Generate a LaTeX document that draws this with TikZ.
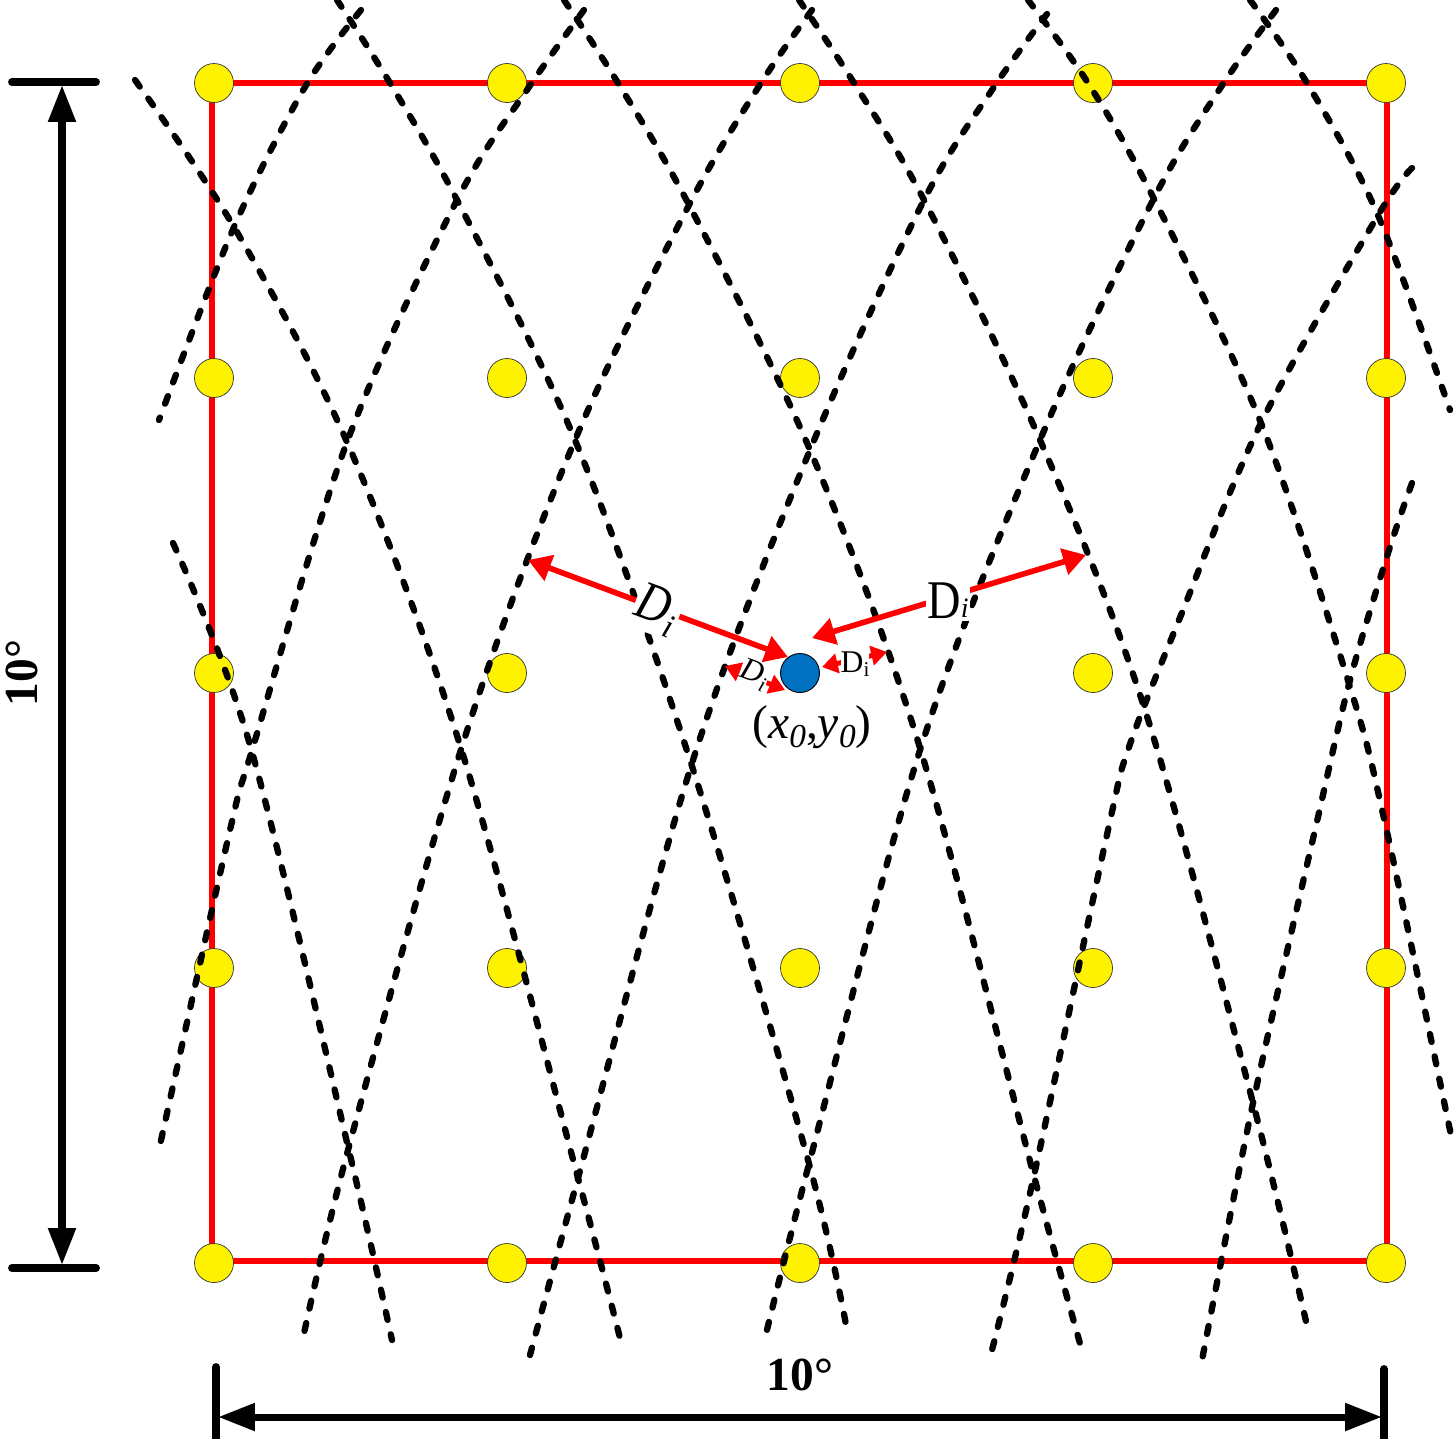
\documentclass[tikz,border=0pt]{standalone}
\usepackage{fontspec}
\setmainfont{Liberation Serif}
\usetikzlibrary{arrows.meta,calc}
\definecolor{dotblue}{HTML}{0070C0}
\newcommand{\bigsz}{\fontsize{27pt}{27pt}\selectfont}
\newcommand{\dsz}{\fontsize{31pt}{31pt}\selectfont}
\newcommand{\bigsub}{\fontsize{19pt}{19pt}\selectfont}
\newcommand{\smallsz}{\fontsize{18pt}{18pt}\selectfont}
\newcommand{\smallsub}{\fontsize{12pt}{12pt}\selectfont}
\begin{document}
\begin{tikzpicture}[x=0.02cm,y=-0.02cm,
  redline/.style={draw=red, line width=3.3pt},
  ydot/.style={circle, fill=yellow, draw=black!80, line width=0.4pt, minimum size=0.78cm, inner sep=0pt},
  bdot/.style={circle, fill=dotblue, draw=black, line width=0.5pt, minimum size=0.78cm, inner sep=0pt},
  dashline/.style={black, line width=3.6pt, line cap=round, dash pattern=on 4.6pt off 8.4pt},
  redarrow/.style={red, line width=3.2pt, {Triangle[length=13pt,width=15pt]}-{Triangle[length=13pt,width=15pt]}},
  smallarrow/.style={red, line width=2.8pt, {Triangle[length=9pt,width=11pt]}-{Triangle[length=9pt,width=11pt]}},
  lab/.style={fill=white, inner sep=1pt},
  dimline/.style={black, line width=4pt},
  tickline/.style={black, line width=4.5pt, line cap=round},
  dimtip/.style={-{Triangle[length=21pt,width=15pt]}}
]
\useasboundingbox (0,0) rectangle (1456,1438);

% red frame
\draw[redline] (212,83) rectangle (1387,1261);

% yellow dots
\foreach \r [count=\j] in {83,378,968,1263}{
  \foreach \c [count=\i] in {214,507,800,1093,1386}{
    \node[ydot] (y\i-\j) at (\c,\r) {};
  }
}
\foreach \c [count=\i] in {214,507,1093,1386}{
  \node[ydot] (m\i) at (\c,673) {};
}

% descending tracks
\draw[dashline] plot[smooth, tension=0.55] coordinates {(173,543) (250,745) (350,1155) (392,1340)};
\draw[dashline] plot[smooth, tension=0.55] coordinates {(135,80) (234,227) (347,442) (460,745) (578,1178) (620,1338)};
\draw[dashline] plot[smooth, tension=0.55] coordinates {(337,0) (390,83) (457,200) (575,440) (690,760) (808,1160) (847,1330)};
\draw[dashline] plot[smooth, tension=0.55] coordinates {(564,0) (618,83) (689,205) (810,450) (920,748) (1035,1180) (1081,1347)};
\draw[dashline] plot[smooth, tension=0.55] coordinates {(799,0) (854,83) (924,200) (1040,440) (1145,710) (1253,1103) (1308,1330)};
\draw[dashline] plot[smooth, tension=0.55] coordinates {(1028,0) (1088,83) (1153,197) (1261,423) (1350,687) (1385,823) (1452,1140)};
\draw[dashline] plot[smooth, tension=0.55] coordinates {(1250,0) (1307,83) (1377,213) (1450,410)};

% ascending tracks
\draw[dashline] plot[smooth, tension=0.55] coordinates {(361,10) (305,87) (234,227) (159,420)};
\draw[dashline] plot[smooth, tension=0.55] coordinates {(584,10) (529,87) (457,200) (347,442) (253,747) (230,830) (160,1145)};
\draw[dashline] plot[smooth, tension=0.55] coordinates {(812,10) (761,83) (689,205) (575,440) (464,740) (348,1150) (303,1338)};
\draw[dashline] plot[smooth, tension=0.55] coordinates {(1047,14) (994,87) (924,200) (810,450) (693,760) (578,1178) (530,1355)};
\draw[dashline] plot[smooth, tension=0.55] coordinates {(1276,10) (1221,87) (1153,200) (1040,440) (920,750) (810,1160) (765,1338)};
\draw[dashline] plot[smooth, tension=0.55] coordinates {(1412,168) (1377,217) (1261,423) (1179,620) (1129,747) (1108,830) (1033,1180) (992,1350)};
\draw[dashline] plot[smooth, tension=0.55] coordinates {(1412,483) (1389,550) (1350,680) (1315,830) (1253,1103) (1202,1360)};

% centre point
\node[bdot] (p0) at (800,673) {};
\node[inner sep=0pt] (p0lab) at (812,727) {\bigsz(\textit{x}\raisebox{-5pt}{\bigsub\textit{0}},\textit{y}\raisebox{-5pt}{\bigsub\textit{0}})};

% distance arrows
\coordinate (la1) at (788,657);
\coordinate (la2) at (528,560);
\coordinate (ra1) at (812,638);
\coordinate (ra2) at (1086,555);
\coordinate (ls1) at (785,690);
\coordinate (ls2) at (725,666);
\coordinate (rs1) at (822,667);
\coordinate (rs2) at (887,652);
\draw[redarrow] (la1) -- (la2);
\draw[redarrow] (ra1) -- (ra2);
\draw[smallarrow] (ls1) -- (ls2);
\draw[smallarrow] (rs1) -- (rs2);
\node[lab, rotate=-20] (lD) at (657,610) {\scalebox{0.85}[1]{\dsz\textit{D}}\raisebox{-6pt}{\bigsub\textit{i}}};
\node[lab] (rD) at (948,601) {\scalebox{0.85}[1]{\dsz D}\raisebox{1pt}{\fontsize{16pt}{16pt}\selectfont\textit{i}}};
\node[lab, inner sep=0pt, rotate=-20] (lsD) at (754,675) {\smallsz\textit{D}\raisebox{-4pt}{\smallsub\textit{i}}};
\node[lab, inner sep=0pt] (rsD) at (855,664) {\smallsz D\raisebox{-2pt}{\smallsub i}};

% vertical dimension
\coordinate (vt) at (62,85);
\coordinate (vb) at (62,1265);
\draw[tickline] (12,82) -- (96,82);
\draw[tickline] (12,1268) -- (96,1268);
\draw[dimline, dimtip] ($(vt)!0.5!(vb)$) -- (vt);
\draw[dimline, dimtip] ($(vt)!0.5!(vb)$) -- (vb);
\node[rotate=90, anchor=base] (vlab) at (37,673) {\bigsz\textbf{10°}};

% horizontal dimension
\coordinate (hl) at (218,1417);
\coordinate (hr) at (1382,1417);
\draw[tickline] (216,1367) -- (216,1445);
\draw[tickline] (1384,1369) -- (1384,1445);
\draw[dimline, dimtip] (800,1417) -- (hl);
\draw[dimline, dimtip] (800,1417) -- (hr);
\node[anchor=base] (hlab) at (800,1390) {\bigsz\textbf{10°}};
\end{tikzpicture}
\end{document}
